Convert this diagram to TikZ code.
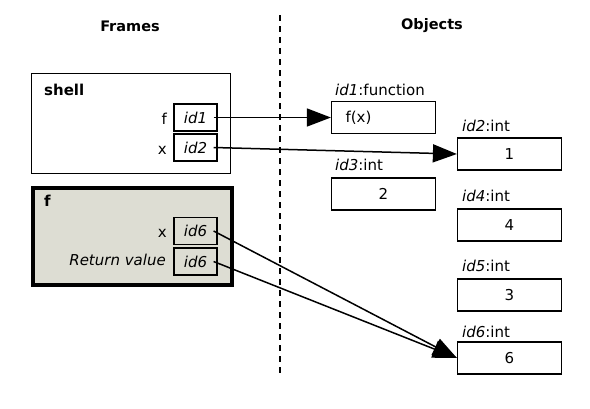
\documentclass[tikz,border=0pt]{standalone}
\usepackage{fontspec}
\setmainfont{DejaVu Sans}
\usetikzlibrary{arrows.meta}
\definecolor{framefill}{RGB}{221,221,211}
\begin{document}
\begin{tikzpicture}[x=1pt,y=-1pt,
  every node/.style={font=\fontsize{15}{17}\selectfont},
  head/.style={font=\fontsize{14.5}{16}\selectfont\bfseries},
  frame/.style={draw, line width=1.2pt, anchor=north west, inner sep=0pt},
  varbox/.style={draw, line width=1.2pt, minimum width=43pt, minimum height=27pt, inner sep=0pt, font=\fontsize{15}{17}\selectfont\itshape},
  objbox/.style={draw, line width=1.2pt, minimum width=104pt, minimum height=32pt, inner sep=0pt},
  lbl/.style={inner sep=0pt},
  arr/.style={line width=1.5pt, -{Triangle[length=24pt,width=18pt]}}
]
\useasboundingbox (0,0) rectangle (590,408);
% headers
\node[head] (hf) at (130,26) {Frames};
\node[head] (ho) at (432,26) {Objects};
\coordinate (dtop) at (280,15);
\coordinate (dbot) at (280,377);
\draw[line width=2pt, dash pattern=on 6pt off 5pt] (dtop) -- (dbot);
% shell frame
\node[frame, minimum width=199pt, minimum height=100pt] (shell) at (31,73) {};
\node[lbl, anchor=base west, font=\fontsize{15}{17}\selectfont\bfseries] (shellt) at (44,95) {shell};
\node[varbox] (v1) at (195.5,117.5) {id1};
\node[varbox] (v2) at (195.5,147.5) {id2};
\node[lbl, anchor=base east] (lf) at (167,124) {f};
\node[lbl, anchor=base east] (lx) at (167,154) {x};
% f frame
\node[frame, fill=framefill, line width=4pt, minimum width=199pt, minimum height=97pt] (fframe) at (31,186) {};
\node[lbl, anchor=base west, font=\fontsize{15}{17}\selectfont\bfseries] (ft) at (44,206) {f};
\node[varbox] (v6a) at (195.5,231) {id6};
\node[varbox] (v6b) at (195.5,261.5) {id6};
\node[lbl, anchor=base east] (lx2) at (167,237) {x};
\node[lbl, anchor=base east, font=\fontsize{15}{17}\selectfont\itshape] (lr) at (166,265) {Return value};
% objects
\node[objbox, text width=76pt, inner xsep=14pt, align=left] (o1) at (383.5,117.5) {f(x)};
\node[lbl, anchor=base west] (t1) at (335,95) {\textit{id1}:function};
\node[objbox] (o2) at (509.5,154) {1};
\node[lbl, anchor=base west] (t2) at (462,131) {\textit{id2}:int};
\node[objbox] (o3) at (383.5,194) {2};
\node[lbl, anchor=base west] (t3) at (335,170) {\textit{id3}:int};
\node[objbox] (o4) at (509.5,225) {4};
\node[lbl, anchor=base west] (t4) at (462,201) {\textit{id4}:int};
\node[objbox] (o5) at (509.5,295) {3};
\node[lbl, anchor=base west] (t5) at (462,271) {\textit{id5}:int};
\node[objbox] (o6) at (509.5,358) {6};
\node[lbl, anchor=base west] (t6) at (462,337) {\textit{id6}:int};
% arrows
\draw[arr] ([xshift=-4pt]v1.east) -- (o1.west);
\draw[arr] ([xshift=-4pt]v2.east) -- (o2.west);
\draw[arr] ([xshift=-4pt]v6a.east) -- (o6.west);
\draw[arr] ([xshift=-4pt]v6b.east) -- (o6.west);
\end{tikzpicture}
\end{document}
